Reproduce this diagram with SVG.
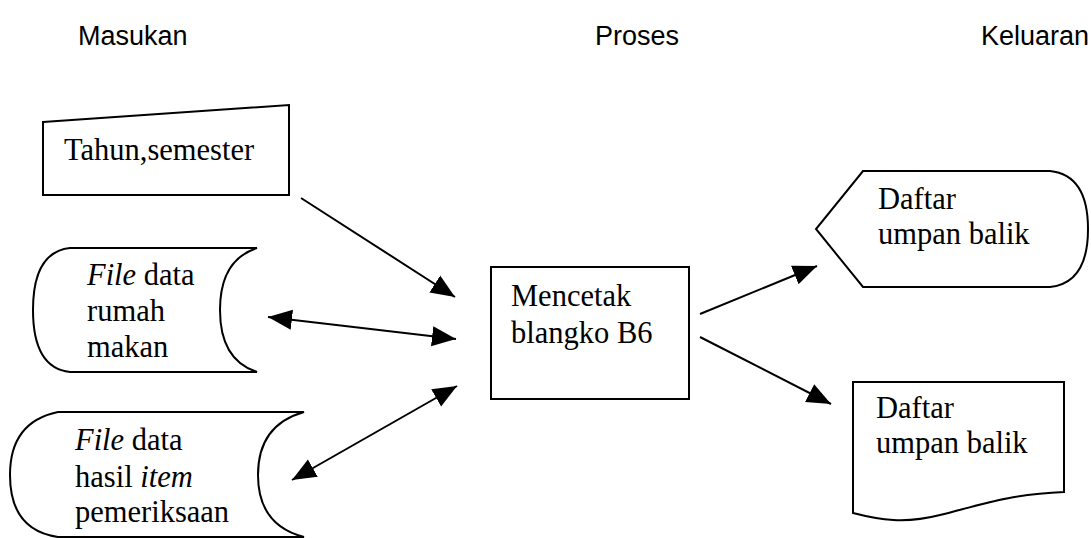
<svg xmlns="http://www.w3.org/2000/svg" width="1091" height="538" viewBox="0 0 1091 538">
<style>
.hdr{font-family:"Liberation Sans",Arial,sans-serif;font-size:27px;fill:#000}
.t{font-family:"Liberation Serif","Times New Roman",serif;font-size:30.5px;fill:#000}
.s{fill:#fff;stroke:#000;stroke-width:2}
.c{fill:none;stroke:#000;stroke-width:2}
</style>
<defs>
<marker id="ah" markerUnits="userSpaceOnUse" markerWidth="26" markerHeight="22" refX="24" refY="10" orient="auto-start-reverse" viewBox="0 0 26 20">
<path d="M0,0 L24,10 L0,20 Z" fill="#000"/>
</marker>
</defs>
<g id="headers">
<text class="hdr" x="78" y="45">Masukan</text>
<text class="hdr" x="595" y="45">Proses</text>
<text class="hdr" x="981" y="45">Keluaran</text>
</g>
<g id="n-tahun">
<polygon class="s" points="43,122 289,105 289,195 43,195"/>
<text class="t" x="64" y="160">Tahun,semester</text>
</g>
<g id="n-file-rumah">
<path class="s" d="M257,248 L70,248 Q33,252 33,310 Q33,368 70,372 L257,372 Q220,360 220,310 Q220,260 257,248 Z"/>
<text class="t" x="87" y="285"><tspan font-style="italic">File</tspan> data</text>
<text class="t" x="87" y="321">rumah</text>
<text class="t" x="87" y="357">makan</text>
</g>
<g id="n-file-hasil">
<path class="s" d="M304,412 L58,412 Q10,422 10,475 Q10,530 58,537 L304,537 Q258,525 258,475 Q258,425 304,412 Z"/>
<text class="t" x="75" y="450"><tspan font-style="italic">File</tspan> data</text>
<text class="t" x="75" y="487">hasil <tspan font-style="italic">item</tspan></text>
<text class="t" x="75" y="522">pemeriksaan</text>
</g>
<g id="n-proses">
<rect class="s" x="491" y="267" width="198" height="132"/>
<text class="t" x="511" y="306">Mencetak</text>
<text class="t" x="511" y="343">blangko B6</text>
</g>
<g id="n-display">
<path class="s" d="M863,171 L1050,171 Q1088,175 1088,229 Q1088,283 1050,287 L863,287 L816,229 Z"/>
<text class="t" x="878" y="209">Daftar</text>
<text class="t" x="878" y="244">umpan balik</text>
</g>
<g id="n-document">
<path class="s" d="M853,382 L1064,382 L1064,492 C1010,494 980,505 940,515 C905,524 880,520 853,513 Z"/>
<text class="t" x="876" y="418">Daftar</text>
<text class="t" x="876" y="453">umpan balik</text>
</g>
<g id="connectors">
<line class="c" x1="301" y1="198" x2="455" y2="297" marker-end="url(#ah)"/>
<line class="c" x1="268" y1="317" x2="456" y2="339" marker-start="url(#ah)" marker-end="url(#ah)"/>
<line class="c" x1="292" y1="480" x2="457" y2="386" marker-start="url(#ah)" marker-end="url(#ah)"/>
<line class="c" x1="700" y1="314" x2="817" y2="266" marker-end="url(#ah)"/>
<line class="c" x1="700" y1="337" x2="831" y2="404" marker-end="url(#ah)"/>
</g>
</svg>
